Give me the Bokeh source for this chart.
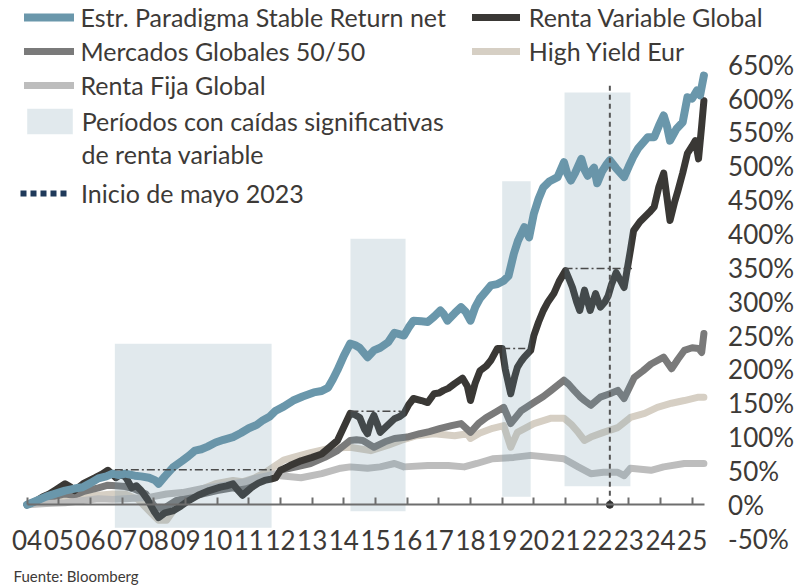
from bokeh.plotting import figure
from bokeh.models import (Range1d, FixedTicker, Legend, LegendItem, Label)
from bokeh.embed import file_html
from bokeh.resources import INLINE

# ---------------- data ----------------
years = list(range(2004, 2026))
year_labels = [str(y)[2:] for y in years]
y_ticks = list(range(-50, 651, 50))
y_labels = [f"{v}%" for v in y_ticks]

est_x = [2004.0, 2004.3, 2004.6, 2005.0, 2005.2, 2005.5, 2005.75, 2006.0, 2006.25, 2006.5, 2006.7, 2006.9,
         2007.1, 2007.4, 2007.6, 2007.85, 2008.05, 2008.15, 2008.35, 2008.6, 2008.9, 2009.1, 2009.3, 2009.5,
         2009.7, 2009.95, 2010.2, 2010.5, 2010.75, 2011.0, 2011.25, 2011.45, 2011.65, 2011.85, 2012.1, 2012.4,
         2012.7, 2013.05, 2013.3, 2013.5, 2013.65, 2013.8, 2014.0, 2014.2, 2014.35, 2014.5, 2014.75, 2014.95,
         2015.15, 2015.4, 2015.6, 2015.75, 2015.9, 2016.05, 2016.2, 2016.45, 2016.65, 2016.85, 2017.05, 2017.15,
         2017.27, 2017.5, 2017.7, 2017.85, 2018.0, 2018.15, 2018.3, 2018.5, 2018.64, 2018.85, 2019.05, 2019.2,
         2019.37, 2019.5, 2019.7, 2019.85, 2020.0, 2020.15, 2020.3, 2020.5, 2020.75, 2020.95, 2021.05, 2021.17,
         2021.3, 2021.5, 2021.6, 2021.7, 2021.9, 2022.0, 2022.15, 2022.3, 2022.4, 2022.6, 2022.85, 2023.0,
         2023.15, 2023.3, 2023.45, 2023.6, 2023.8, 2023.95, 2024.1, 2024.2, 2024.3, 2024.5, 2024.7, 2024.85,
         2025.0, 2025.15, 2025.25, 2025.37]
est_y = [0, 6, 12, 18, 21, 24, 26, 32, 39, 42, 46, 44,
         46, 43, 42, 40, 36, 31, 42, 55, 65, 72, 80, 82,
         86, 92, 96, 100, 106, 113, 118, 125, 130, 139, 145, 154,
         160, 166, 168, 173, 185, 199, 220, 238, 236, 232, 218, 228,
         232, 240, 254, 252, 250, 262, 272, 271, 270, 278, 287, 282,
         272, 283, 292, 285, 272, 292, 305, 316, 324, 326, 331, 338,
         371, 390, 410, 395, 430, 452, 469, 478, 484, 506, 490, 479,
         490, 511, 495, 486, 498, 475, 492, 503, 509, 497, 484, 500,
         515, 527, 535, 543, 543, 560, 575, 560, 538, 555, 565, 602,
         600, 612, 605, 634]

rv_x = [2004.0, 2004.3, 2004.5, 2004.7, 2004.9, 2005.2, 2005.35, 2005.5, 2005.8, 2006.15, 2006.35, 2006.55,
        2006.7, 2006.8, 2007.0, 2007.15, 2007.3, 2007.45, 2007.6, 2007.8, 2008.0, 2008.15, 2008.35, 2008.6,
        2008.85, 2009.1, 2009.4, 2009.75, 2010.1, 2010.3, 2010.5, 2010.65, 2010.8, 2010.95, 2011.1, 2011.3,
        2011.5, 2011.7, 2011.85, 2012.0, 2012.3, 2012.65, 2013.0, 2013.3, 2013.55, 2013.8, 2014.0, 2014.2,
        2014.35, 2014.5, 2014.65, 2014.75, 2014.85, 2014.95, 2015.05, 2015.15, 2015.35, 2015.6, 2015.75, 2015.9,
        2016.05, 2016.2, 2016.45, 2016.65, 2016.85, 2017.0, 2017.15, 2017.3, 2017.5, 2017.75, 2017.9, 2018.0,
        2018.15, 2018.3, 2018.5, 2018.64, 2018.85, 2019.0, 2019.1, 2019.27, 2019.4, 2019.48, 2019.6, 2019.7,
        2019.9, 2020.0, 2020.15, 2020.3, 2020.45, 2020.63, 2020.8, 2021.0, 2021.1, 2021.22, 2021.35, 2021.45,
        2021.6, 2021.7, 2021.78, 2021.95, 2022.1, 2022.25, 2022.35, 2022.45, 2022.6, 2022.75, 2022.85, 2023.05,
        2023.15, 2023.35, 2023.5, 2023.65, 2023.8, 2023.95, 2024.1, 2024.2, 2024.3, 2024.45, 2024.55, 2024.7,
        2024.85, 2025.0, 2025.1, 2025.2, 2025.3, 2025.37]
rv_y = [0, 6, 12, 16, 22, 31, 27, 21, 32, 40, 45, 51,
        45, 40, 46, 38, 25, 28, 21, 8, -9, -19, -12, -9,
        -2, 6, 14, 21, 26, 28, 31, 22, 14, 20, 26, 32,
        36, 38, 40, 51, 58, 65, 70, 75, 85, 95, 115, 135,
        133, 129, 112, 105, 122, 132, 120, 107, 116, 127, 130, 135,
        148, 157, 154, 151, 164, 165, 169, 172, 179, 187, 175, 154,
        180, 198, 205, 213, 231, 231, 200, 164, 190, 203, 212, 218,
        228, 250, 270, 287, 300, 312, 330, 346, 335, 321, 300, 287,
        317, 300, 287, 312, 292, 300, 309, 325, 343, 330, 321, 376,
        405, 418, 425, 432, 440, 470, 490, 455, 420, 448, 464, 490,
        519, 530, 538, 511, 560, 597]

mg_x = [2004.0, 2004.5, 2005.2, 2005.5, 2005.8, 2006.25, 2006.55, 2006.8, 2007.1, 2007.35, 2007.75, 2008.05,
        2008.3, 2008.5, 2008.7, 2009.1, 2009.55, 2010.0, 2010.5, 2010.75, 2011.0, 2011.4, 2011.85, 2012.0,
        2012.5, 2012.95, 2013.4, 2013.8, 2014.2, 2014.4, 2014.6, 2014.95, 2015.3, 2015.6, 2016.0, 2016.4,
        2016.7, 2017.05, 2017.4, 2017.7, 2018.0, 2018.25, 2018.5, 2018.8, 2019.05, 2019.27, 2019.6, 2020.0,
        2020.3, 2020.55, 2020.95, 2021.1, 2021.27, 2021.45, 2021.6, 2021.8, 2022.1, 2022.4, 2022.65, 2022.85,
        2023.17, 2023.45, 2023.7, 2024.1, 2024.35, 2024.55, 2024.75, 2025.0, 2025.2, 2025.3, 2025.37]
mg_y = [0, 8, 16, 14, 20, 25, 29, 28, 27, 24, 16, -4,
        -6, 0, 6, 11, 16, 21, 25, 22, 31, 38, 40, 51,
        56, 61, 70, 80, 95, 96, 95, 85, 93, 98, 100, 105,
        108, 113, 117, 120, 107, 120, 129, 137, 144, 120, 139, 151,
        160, 169, 184, 178, 169, 160, 154, 147, 159, 164, 169, 157,
        188, 198, 208, 218, 201, 215, 228, 232, 231, 225, 253]

hy_x = [2004.0, 2004.6, 2005.2, 2005.7, 2006.25, 2006.7, 2007.1, 2007.5, 2007.85, 2008.15, 2008.4, 2008.6,
        2008.8, 2009.1, 2009.4, 2009.95, 2010.5, 2010.8, 2011.2, 2011.5, 2011.85, 2012.1, 2012.4, 2012.95,
        2013.5, 2014.2, 2014.85, 2015.4, 2015.8, 2016.3, 2016.85, 2017.5, 2017.9, 2018.0, 2018.3, 2018.7,
        2019.05, 2019.27, 2019.48, 2020.0, 2020.55, 2020.95, 2021.2, 2021.4, 2021.6, 2021.8, 2022.2, 2022.65,
        2023.05, 2023.5, 2023.9, 2024.35, 2024.75, 2025.2, 2025.37]
hy_y = [0, 6, 11, 12, 14, 16, 16, 8, -9, -23, -23, -10,
        2, 12, 21, 31, 36, 34, 40, 47, 58, 66, 70, 77,
        83, 85, 80, 88, 95, 102, 105, 102, 105, 98, 106, 113,
        117, 85, 107, 120, 128, 128, 118, 107, 95, 100, 107, 114,
        129, 135, 144, 150, 154, 159, 159]

rf_x = [2004.0, 2004.6, 2005.2, 2005.7, 2006.25, 2006.7, 2007.1, 2007.5, 2007.85, 2008.4, 2008.9, 2009.55,
        2010.0, 2010.5, 2010.9, 2011.2, 2011.6, 2011.85, 2012.0, 2012.65, 2013.3, 2013.9, 2014.2, 2014.75,
        2015.15, 2015.6, 2015.9, 2016.65, 2017.3, 2017.8, 2018.2, 2018.7, 2019.37, 2019.9, 2020.55, 2020.95,
        2021.4, 2021.8, 2022.2, 2022.65, 2022.85, 2023.05, 2023.7, 2024.1, 2024.75, 2025.2, 2025.37]
rf_y = [0, 2, 3, 6, 9, 8, 9, 10, 11, 16, 18, 24,
        27, 31, 34, 39, 43, 46, 43, 40, 46, 54, 56, 54,
        56, 61, 56, 58, 58, 56, 61, 68, 70, 73, 70, 68,
        56, 46, 48, 48, 43, 54, 51, 56, 61, 61, 61]

# periods of significant equity falls (shaded) and pre-fall peak levels
shade_left = [2006.77, 2014.21, 2019.0, 2020.97]
shade_right = [2011.72, 2015.95, 2019.9, 2023.05]
shade_bottom = [-34, -9.5, 12, 27.5]
shade_top = [238, 393, 478, 609]
peak_level = [51.7, 138, 231, 349]
peak_end = [2011.72, 2015.8, 2019.73, 2023.1]
may_x = [2022.4]
may_top = [623]
may_bottom = [0]
axis_start, axis_end = 2004.0, 2025.376

FONT = "Lato"
TXT = "#3d3a37"
W, H = 800, 586

p = figure(width=W, height=H, output_backend="svg", toolbar_location=None,
           x_range=Range1d(2003.160, 2028.42), y_range=Range1d(-120.7, 744.9),
           y_axis_location="right", min_border=0, min_border_left=0, min_border_right=0,
           min_border_top=0, min_border_bottom=0)
p.grid.visible = False
p.outline_line_color = None
p.background_fill_color = "white"
p.border_fill_color = "white"

# x axis fixed at 0%
xa = p.xaxis[0]
xa.fixed_location = 0
xa.bounds = (axis_start, axis_end)
xa.ticker = FixedTicker(ticks=years)
xa.major_label_overrides = {y: l for y, l in zip(years, year_labels)}
xa.axis_line_color = "#6e6e6e"
xa.axis_line_width = 2
xa.major_tick_in = 7
xa.major_tick_out = 0
xa.major_tick_line_color = "#6e6e6e"
xa.major_tick_line_width = 2
xa.minor_tick_line_color = None
xa.major_label_standoff = 25
xa.major_label_text_font = FONT
xa.major_label_text_font_size = "26px"
xa.major_label_text_color = TXT

# y axis labels at the right end of the x axis
ya = p.yaxis[0]
ya.fixed_location = axis_end
ya.ticker = FixedTicker(ticks=y_ticks)
ya.major_label_overrides = {v: l for v, l in zip(y_ticks, y_labels)}
ya.axis_line_color = None
ya.major_tick_line_color = None
ya.major_tick_in = 0
ya.major_tick_out = 0
ya.minor_tick_line_color = None
ya.major_label_standoff = 24
ya.major_label_text_font = FONT
ya.major_label_text_font_size = "26px"
ya.major_label_text_color = TXT

LW = 7
r_hy = p.line(hy_x, hy_y, line_color="#d6cfc4", line_width=LW, line_join="round", line_cap="round")
r_mg = p.line(mg_x, mg_y, line_color="#7a7a7a", line_width=LW, line_join="round", line_cap="round")
r_rf = p.line(rf_x, rf_y, line_color="#bdbdbd", line_width=LW, line_join="round", line_cap="round")
r_rv = p.line(rv_x, rv_y, line_color="#3a3835", line_width=LW, line_join="round", line_cap="round")
r_est = p.line(est_x, est_y, line_color="#6a97ab", line_width=8, line_join="round", line_cap="round")

r_shade = p.quad(left=shade_left, right=shade_right, bottom=shade_bottom, top=shade_top,
                 fill_color="#6991a5", fill_alpha=0.2, line_color=None)

p.segment(x0=shade_left, y0=peak_level, x1=peak_end, y1=peak_level,
          line_color="#4a4a4a", line_width=1.5, line_dash="8 3 2 3")
p.segment(x0=may_x, y0=may_bottom, x1=may_x, y1=may_top,
          line_color="#555555", line_width=2, line_dash="5 4")
p.scatter(x=may_x, y=may_bottom, size=7, color="#333333")

# legend-only renderer for the May 2023 marker
r_may = p.line(x=[float("nan")], y=[float("nan")], line_color="#1f3a5a", line_width=6, line_dash="6 4")


def style(leg, gw, gh, lh, sp, so):
    leg.glyph_width = gw
    leg.glyph_height = gh
    leg.label_height = lh
    leg.spacing = sp
    leg.padding = 0
    leg.margin = 0
    leg.border_line_color = None
    leg.background_fill_alpha = 0
    leg.label_text_font = FONT
    leg.label_text_font_size = "25px"
    leg.label_text_color = TXT
    leg.label_standoff = so
    return leg


leg1 = style(Legend(items=[LegendItem(label="Estr. Paradigma Stable Return net", renderers=[r_est]),
                           LegendItem(label="Mercados Globales 50/50", renderers=[r_mg]),
                           LegendItem(label="Renta Fija Global", renderers=[r_rf])],
                    location=(23.5, H - 100)), 50, 30, 30, 4, 7)
leg2 = style(Legend(items=[LegendItem(label="Renta Variable Global", renderers=[r_rv]),
                           LegendItem(label="High Yield Eur", renderers=[r_hy])],
                    location=(471.8, H - 66)), 48, 30, 30, 4, 9)
leg3 = style(Legend(items=[LegendItem(label="Períodos con caídas significativas", renderers=[r_shade])],
                    location=(20.7, H - 137)), 57, 32, 32, 0, 4)
leg4 = style(Legend(items=[LegendItem(label="Inicio de mayo 2023", renderers=[r_may])],
                    location=(20, H - 208)), 48, 30, 30, 0, 13)
for lg in (leg1, leg2, leg3, leg4):
    p.add_layout(lg, "center")

p.add_layout(Label(x=81, y=H - 153, x_units="screen", y_units="screen", text="de renta variable",
                   text_font=FONT, text_font_size="25px", text_color=TXT, text_baseline="middle"))
p.add_layout(Label(x=13, y=H - 575, x_units="screen", y_units="screen", text="Fuente: Bloomberg",
                   text_font=FONT, text_font_size="15px", text_color=TXT, text_baseline="middle"))

open("out.html", "w").write(file_html(p, INLINE))
